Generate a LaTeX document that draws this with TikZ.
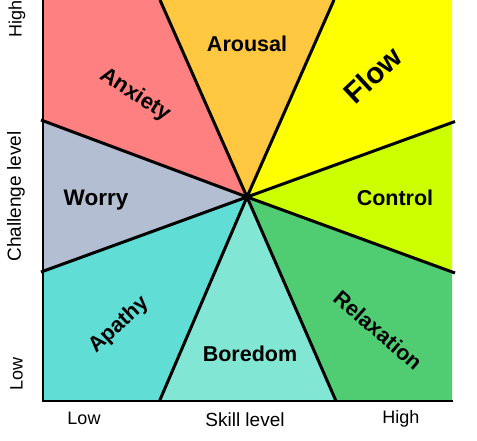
\documentclass[tikz,border=0pt]{standalone}
\usepackage{fontspec}
\setmainfont{Liberation Sans}
\definecolor{anxc}{RGB}{255,128,128}
\definecolor{arouc}{RGB}{255,200,64}
\definecolor{flowc}{RGB}{255,255,0}
\definecolor{ctrlc}{RGB}{204,255,0}
\definecolor{relc}{RGB}{80,205,115}
\definecolor{borc}{RGB}{130,230,212}
\definecolor{apac}{RGB}{96,221,213}
\definecolor{worc}{RGB}{180,190,210}
\tikzset{
  divider/.style={draw=black, line width=3pt},
  axisline/.style={draw=black, line width=2pt},
  zone/.style={font=\bfseries\fontsize{21.5}{25}\selectfont, inner sep=0pt},
  axlabel/.style={font=\fontsize{18}{21}\selectfont, inner sep=0pt}
}
\begin{document}
\begin{tikzpicture}[x=1pt,y=-1pt]
\useasboundingbox (0,0) rectangle (477,441);
\coordinate (C) at (247,197);
\coordinate (TL) at (160,0);
\coordinate (TR) at (334,0);
\coordinate (LU) at (41,120);
\coordinate (RU) at (455,121.5);
\coordinate (LL) at (41,272);
\coordinate (RL) at (455,273);
\coordinate (BL) at (159.5,401);
\coordinate (BR) at (336,401);
% fills
\fill[anxc] (C) -- (42,120) -- (42,0) -- (TL) -- cycle;
\fill[arouc] (C) -- (TL) -- (TR) -- cycle;
\fill[flowc] (C) -- (TR) -- (452,0) -- (452,121.5) -- cycle;
\fill[ctrlc] (C) -- (452,121.5) -- (452,273) -- cycle;
\fill[relc] (C) -- (452,273) -- (452,401) -- (BR) -- cycle;
\fill[borc] (C) -- (BR) -- (BL) -- cycle;
\fill[apac] (C) -- (BL) -- (42,401) -- (42,272) -- cycle;
\fill[worc] (C) -- (42,272) -- (42,120) -- cycle;
% dividers
\foreach \p in {TL,TR,LU,RU,LL,RL,BL,BR}
  \draw[divider] (C) -- (\p);
% axes
\coordinate (O) at (42.5,401);
\coordinate (Ytop) at (42.5,0);
\coordinate (Xend) at (453,401);
\draw[axisline] (Ytop) -- (O) -- (Xend);
% zone labels
\node[zone] (arousal) at (247,44) {Arousal};
\node[zone, rotate=-33, font=\bfseries\fontsize{22}{26}\selectfont] (anxiety) at (135,95) {Anxiety};
\node[zone, rotate=43, font=\bfseries\fontsize{29.5}{34}\selectfont] (flow) at (372.5,75) {Flow};
\node[zone, font=\bfseries\fontsize{22.5}{26}\selectfont] (worry) at (96,200) {Worry};
\node[zone] (control) at (395,198) {Control};
\node[zone, rotate=43] (apathy) at (119,325) {Apathy};
\node[zone] (boredom) at (250,354) {Boredom};
\node[zone, rotate=-41] (relax) at (378,330) {Relaxation};
% axis labels
\node[axlabel] (xlow) at (84,418) {Low};
\node[axlabel, font=\fontsize{19}{22}\selectfont] (xlab) at (245,420) {Skill level};
\node[axlabel] (xhigh) at (401,419) {High};
\node[axlabel, rotate=90] (yhigh) at (17,19) {High};
\node[axlabel, rotate=90, font=\fontsize{19}{22}\selectfont] (ylab) at (16,196.5) {Challenge level};
\node[axlabel, rotate=90] (ylow) at (16.5,374) {Low};
\end{tikzpicture}
\end{document}
